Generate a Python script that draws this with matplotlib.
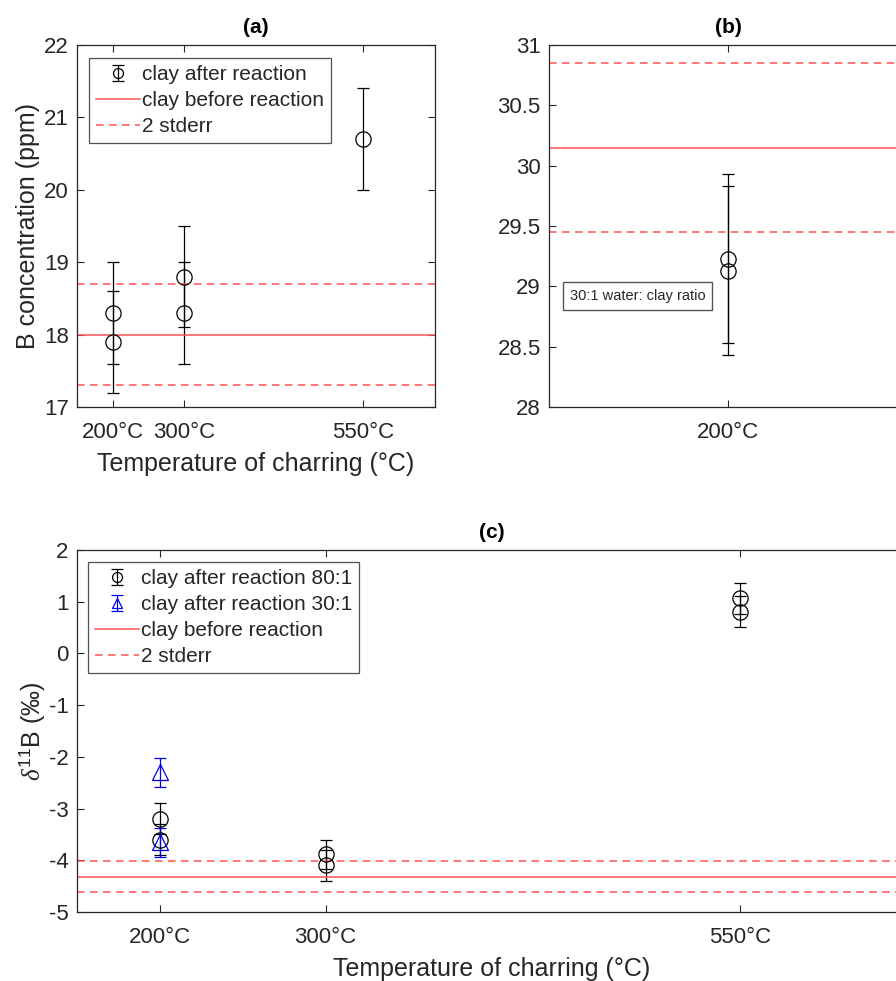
import matplotlib
matplotlib.use('Agg')
import matplotlib.pyplot as plt
from matplotlib.legend_handler import HandlerErrorbar

plt.rcParams['font.family'] = ['Liberation Sans', 'DejaVu Sans']
plt.rcParams['axes.unicode_minus'] = False
plt.rcParams['mathtext.fontset'] = 'custom'
plt.rcParams['mathtext.it'] = 'Liberation Serif:italic'
plt.rcParams['mathtext.rm'] = 'Liberation Sans'

# panel (a): B concentration, 80:1 ratio
a_x = [200, 200, 300, 300, 550]
a_y = [18.3, 17.9, 18.8, 18.3, 20.7]
a_err = [0.7, 0.7, 0.7, 0.7, 0.7]
a_before = 18.0
a_stderr = 0.7

# panel (b): B concentration, 30:1 ratio
b_x = [200, 200]
b_y = [29.23, 29.13]
b_err = [0.7, 0.7]
b_before = 30.15
b_stderr = 0.7

# panel (c): d11B
c_x80 = [200, 200, 300, 300, 550, 550]
c_y80 = [-3.2, -3.6, -3.88, -4.1, 1.07, 0.81]
c_err80 = [0.3, 0.3, 0.28, 0.3, 0.3, 0.3]
c_x30 = [200, 200]
c_y30 = [-2.3, -3.65]
c_err30 = [0.28, 0.28]
c_before = -4.32
c_stderr = 0.3

temp_ticks = [200, 300, 550]
temp_labels = ['200°C', '300°C', '550°C']

red = '#ff5252'
dash = (0, (5, 3.5))
axcol = '#262626'
txtcol = '#262626'


def style_axes(ax):
    for s in ax.spines.values():
        s.set_color(axcol)
        s.set_linewidth(0.9)
    ax.tick_params(direction='in', top=True, right=True, length=5,
                   width=0.8, color=axcol, labelsize=16, labelcolor=txtcol)
    ax.tick_params(axis='x', pad=11)
    ax.tick_params(axis='y', pad=6)


def ref_lines(ax, mid, sd):
    ax.axhline(mid, color=red, lw=1.1, label='clay before reaction')
    ax.axhline(mid + sd, color=red, lw=1.1, ls=dash, label='2 stderr')
    ax.axhline(mid - sd, color=red, lw=1.1, ls=dash)


def add_legend(ax, anchor):
    handles, labels = ax.get_legend_handles_labels()
    order = [labels.index(l) for l in labels if 'after' in l] + \
            [labels.index(l) for l in labels if 'after' not in l]
    leg = ax.legend([handles[i] for i in order], [labels[i] for i in order],
                    loc='upper left', bbox_to_anchor=anchor, fontsize=15, frameon=True,
                    fancybox=False, edgecolor=axcol, borderpad=0.35, labelspacing=0.33,
                    handlelength=2.1, handletextpad=0.1, borderaxespad=0, markerscale=0.65,
                    handler_map={type(ax.containers[0]): HandlerErrorbar(xerr_size=0.4)})
    leg.get_frame().set_linewidth(0.9)
    for t in leg.get_texts():
        t.set_color(txtcol)


eb_kw = dict(mfc='none', ms=11, mew=0.9, elinewidth=0.9, capsize=4, capthick=0.9)

fig = plt.figure(figsize=(8.96, 9.81), dpi=100)

# (a)
ax1 = fig.add_axes([0.0859, 0.5851, 0.3996, 0.369])
ax1.errorbar(a_x, a_y, yerr=a_err, fmt='o', mec='black', ecolor='black',
             label='clay after reaction', **eb_kw)
ref_lines(ax1, a_before, a_stderr)
ax1.set_xlim(150, 650)
ax1.set_ylim(17, 22)
ax1.set_xticks(temp_ticks, temp_labels)
ax1.set_yticks([17, 18, 19, 20, 21, 22])
ax1.set_xlabel('Temperature of charring (°C)', fontsize=18, color=txtcol, labelpad=6)
ax1.set_ylabel('B concentration (ppm)', fontsize=18, color=txtcol, labelpad=3)
ax1.set_title('(a)', fontsize=15, fontweight='bold', pad=9)
style_axes(ax1)
add_legend(ax1, (0.033, 0.964))

# (b)
ax2 = fig.add_axes([0.6127, 0.5851, 0.3996, 0.369])
ax2.errorbar(b_x, b_y, yerr=b_err, fmt='o', mec='black', ecolor='black', **eb_kw)
ref_lines(ax2, b_before, b_stderr)
ax2.set_xlim(150, 250)
ax2.set_ylim(28, 31)
ax2.set_xticks([200], ['200°C'])
ax2.set_yticks([28, 28.5, 29, 29.5, 30, 30.5, 31])
ax2.set_yticklabels(['28', '28.5', '29', '29.5', '30', '30.5', '31'])
ax2.set_title('(b)', fontsize=15, fontweight='bold', pad=9)
style_axes(ax2)
ax2.text(0.058, 28.92, '30:1 water: clay ratio', transform=ax2.get_yaxis_transform(),
         fontsize=10.5, va='center', ha='left', color=txtcol,
         bbox=dict(boxstyle='square,pad=0.45', fc='white', ec='#555555', lw=1.0))

# (c)
ax3 = fig.add_axes([0.0859, 0.0703, 0.925, 0.369])
ax3.errorbar(c_x80, c_y80, yerr=c_err80, fmt='o', mec='black', ecolor='black',
             label='clay after reaction 80:1', **eb_kw)
ax3.errorbar(c_x30, c_y30, yerr=c_err30, fmt='^', mec='#0000ee', ecolor='#0000ee',
             label='clay after reaction 30:1', **eb_kw)
ref_lines(ax3, c_before, c_stderr)
ax3.set_xlim(150, 650)
ax3.set_ylim(-5, 2)
ax3.set_xticks(temp_ticks, temp_labels)
ax3.set_yticks(range(-5, 3))
ax3.set_xlabel('Temperature of charring (°C)', fontsize=18, color=txtcol, labelpad=6)
ax3.set_ylabel(r'$\mathit{\delta}^{11}$B (‰)', fontsize=18, color=txtcol, labelpad=1)
ax3.set_title('(c)', fontsize=15, fontweight='bold', pad=9)
style_axes(ax3)
add_legend(ax3, (0.013, 0.967))

fig.savefig('out.png', dpi=100, facecolor='white')
